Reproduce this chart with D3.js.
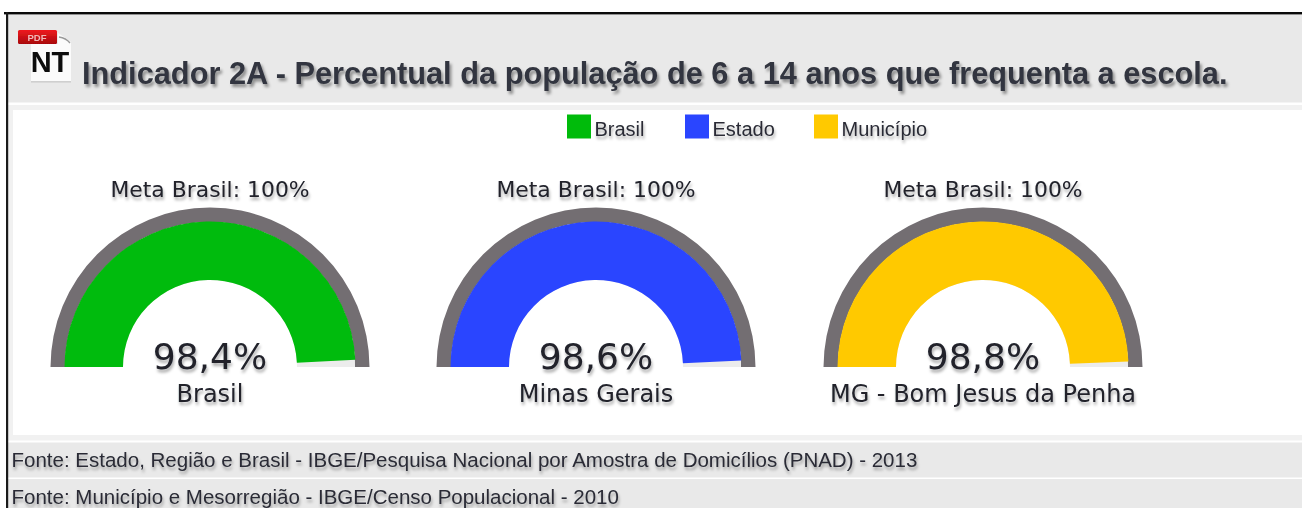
<!DOCTYPE html>
<html><head><meta charset="utf-8">
<script src="https://cdn.jsdelivr.net/npm/d3@7"></script>
<style>
html,body{margin:0;padding:0;background:#fff;overflow:hidden}
svg{display:block}
text{white-space:pre}
</style></head><body>
<svg id="c" width="1302" height="508"></svg>
<script>
const titleText = "Indicador 2A - Percentual da população de 6 a 14 anos que frequenta a escola.";
const legendLabels = ["Brasil","Estado","Município"];
const colors = ["#00bb0b","#2a45ff","#ffc900"];
const gaugeNames = ["Brasil","Minas Gerais","MG - Bom Jesus da Penha"];
const gaugeValues = [98.4,98.6,98.8];
const valueLabels = ["98,4%","98,6%","98,8%"];
const goalLabels = ["Meta Brasil: 100%","Meta Brasil: 100%","Meta Brasil: 100%"];
const sources = ["Fonte: Estado, Região e Brasil - IBGE/Pesquisa Nacional por Amostra de Domicílios (PNAD) - 2013",
                 "Fonte: Município e Mesorregião - IBGE/Censo Populacional - 2010"];

const svg = d3.select("#c");
const defs = svg.append("defs");
function shadow(id,dx,dy,sd,op,blur){
  const f = defs.append("filter").attr("id",id).attr("x","-10%").attr("y","-40%").attr("width","120%").attr("height","200%");
  f.append("feGaussianBlur").attr("in","SourceAlpha").attr("stdDeviation",sd).attr("result","b");
  f.append("feOffset").attr("in","b").attr("dx",dx).attr("dy",dy).attr("result","o");
  f.append("feFlood").attr("flood-color","#000").attr("flood-opacity",op);
  f.append("feComposite").attr("in2","o").attr("operator","in").attr("result","s");
  f.append("feGaussianBlur").attr("in","SourceGraphic").attr("stdDeviation",blur).attr("result","t");
  const m=f.append("feMerge");
  m.append("feMergeNode").attr("in","s");
  m.append("feMergeNode").attr("in","t");
}
shadow("ts",1.5,2.5,1.8,0.4,0.4);
shadow("ts2",1,2.5,1.8,0.33,0.35);
const soft = defs.append("filter").attr("id","soft");
soft.append("feGaussianBlur").attr("stdDeviation",0.5);
const redGrad = defs.append("linearGradient").attr("id","red").attr("x1",0).attr("y1",0).attr("x2",0).attr("y2",1);
redGrad.append("stop").attr("offset",0).attr("stop-color","#ef1a1f");
redGrad.append("stop").attr("offset",1).attr("stop-color","#a8060c");

// page panels
const rect=(x,y,w,h,f)=>svg.append("rect").attr("x",x).attr("y",y).attr("width",w).attr("height",h).attr("fill",f);
const grey="#e9e9e9";
rect(8,14,1294,88.5,grey);
rect(8,105,1294,5,"#f1f1f1");
rect(8,110,5,325,"#f1f1f1");
rect(8,435,1294,5.5,"#f1f1f1");
rect(8,442.5,1294,35,grey);
rect(8,479,1294,29,grey);
rect(4,12,1298,2.4,"#0a0a0a");
rect(6,12,2.2,496,"#1a1a1a");

// PDF / NT icon
const icon = svg.append("g").attr("filter","url(#soft)");
icon.append("path").attr("d","M58 33 L64 37 L71 42 L71 82 L31 82 L31 44 L58 44 Z").attr("fill","#fbfbfb");
icon.append("rect").attr("x",31).attr("y",81).attr("width",40).attr("height",1.6).attr("fill","#cfcfcf");
icon.append("path").attr("d","M59 37 Q66 38 70 43").attr("fill","none").attr("stroke","#999").attr("stroke-width",1.4);
icon.append("rect").attr("x",18).attr("y",30).attr("width",39).attr("height",14).attr("rx",1.5).attr("fill","url(#red)");
icon.append("text").attr("x",37).attr("y",41).attr("text-anchor","middle").attr("font-family","Liberation Sans").attr("font-weight","bold").attr("font-size",9.5).attr("fill","#f0b8b8").text("PDF");
icon.append("text").attr("x",50).attr("y",71.5).attr("text-anchor","middle").attr("font-family","Liberation Sans").attr("font-weight","bold").attr("font-size",29).attr("fill","#0b0b0b").text("NT");

// title
svg.append("text").attr("x",82).attr("y",84).attr("font-family","Liberation Sans").attr("font-weight","bold").attr("font-size",30.75)
  .attr("fill","#33363f").attr("filter","url(#ts)").text(titleText);

// legend
const legendX = [567,685,814];
legendLabels.forEach((d,i)=>{
  rect(legendX[i],114.5,24,24,colors[i]);
  svg.append("text").attr("x",legendX[i]+27.5).attr("y",135.5).attr("font-family","Liberation Sans").attr("font-size",20)
    .attr("fill","#2a2c36").attr("filter","url(#ts2)").text(d);
});

// gauges
const cx = [210,596,983], baseY = 367;
const angle = d3.scaleLinear().domain([0,100]).range([-Math.PI/2,Math.PI/2]);
const arc = d3.arc();
gaugeNames.forEach((name,i)=>{
  const g = svg.append("g").attr("transform",`translate(${cx[i]},${baseY})`);
  const ga = g.append("g").attr("filter","url(#soft)");
  ga.append("path").attr("d",arc({innerRadius:145,outerRadius:159.5,startAngle:angle(0),endAngle:angle(100)})).attr("fill","#736e72");
  ga.append("path").attr("d",arc({innerRadius:87,outerRadius:145,startAngle:angle(0),endAngle:angle(100)})).attr("fill","#ececec");
  ga.append("path").attr("d",arc({innerRadius:87,outerRadius:145.5,startAngle:angle(0),endAngle:angle(gaugeValues[i])})).attr("fill",colors[i]);
  const t=(y,s,txt)=>g.append("text").attr("x",0).attr("y",y).attr("text-anchor","middle").attr("font-family","DejaVu Sans").attr("font-size",s).attr("fill","#20222c").attr("filter","url(#ts2)").text(txt);
  t(-170,21.9,goalLabels[i]);
  t(2,36,valueLabels[i]);
  t(34.5,24,name);
});

// sources
const srcY=[467,504];
sources.forEach((s,i)=>svg.append("text").attr("x",11.5).attr("y",srcY[i]).attr("font-family","Liberation Sans").attr("font-size",20.5).attr("fill","#2a2c36").attr("filter","url(#ts2)").text(s));
</script>
</body></html>
